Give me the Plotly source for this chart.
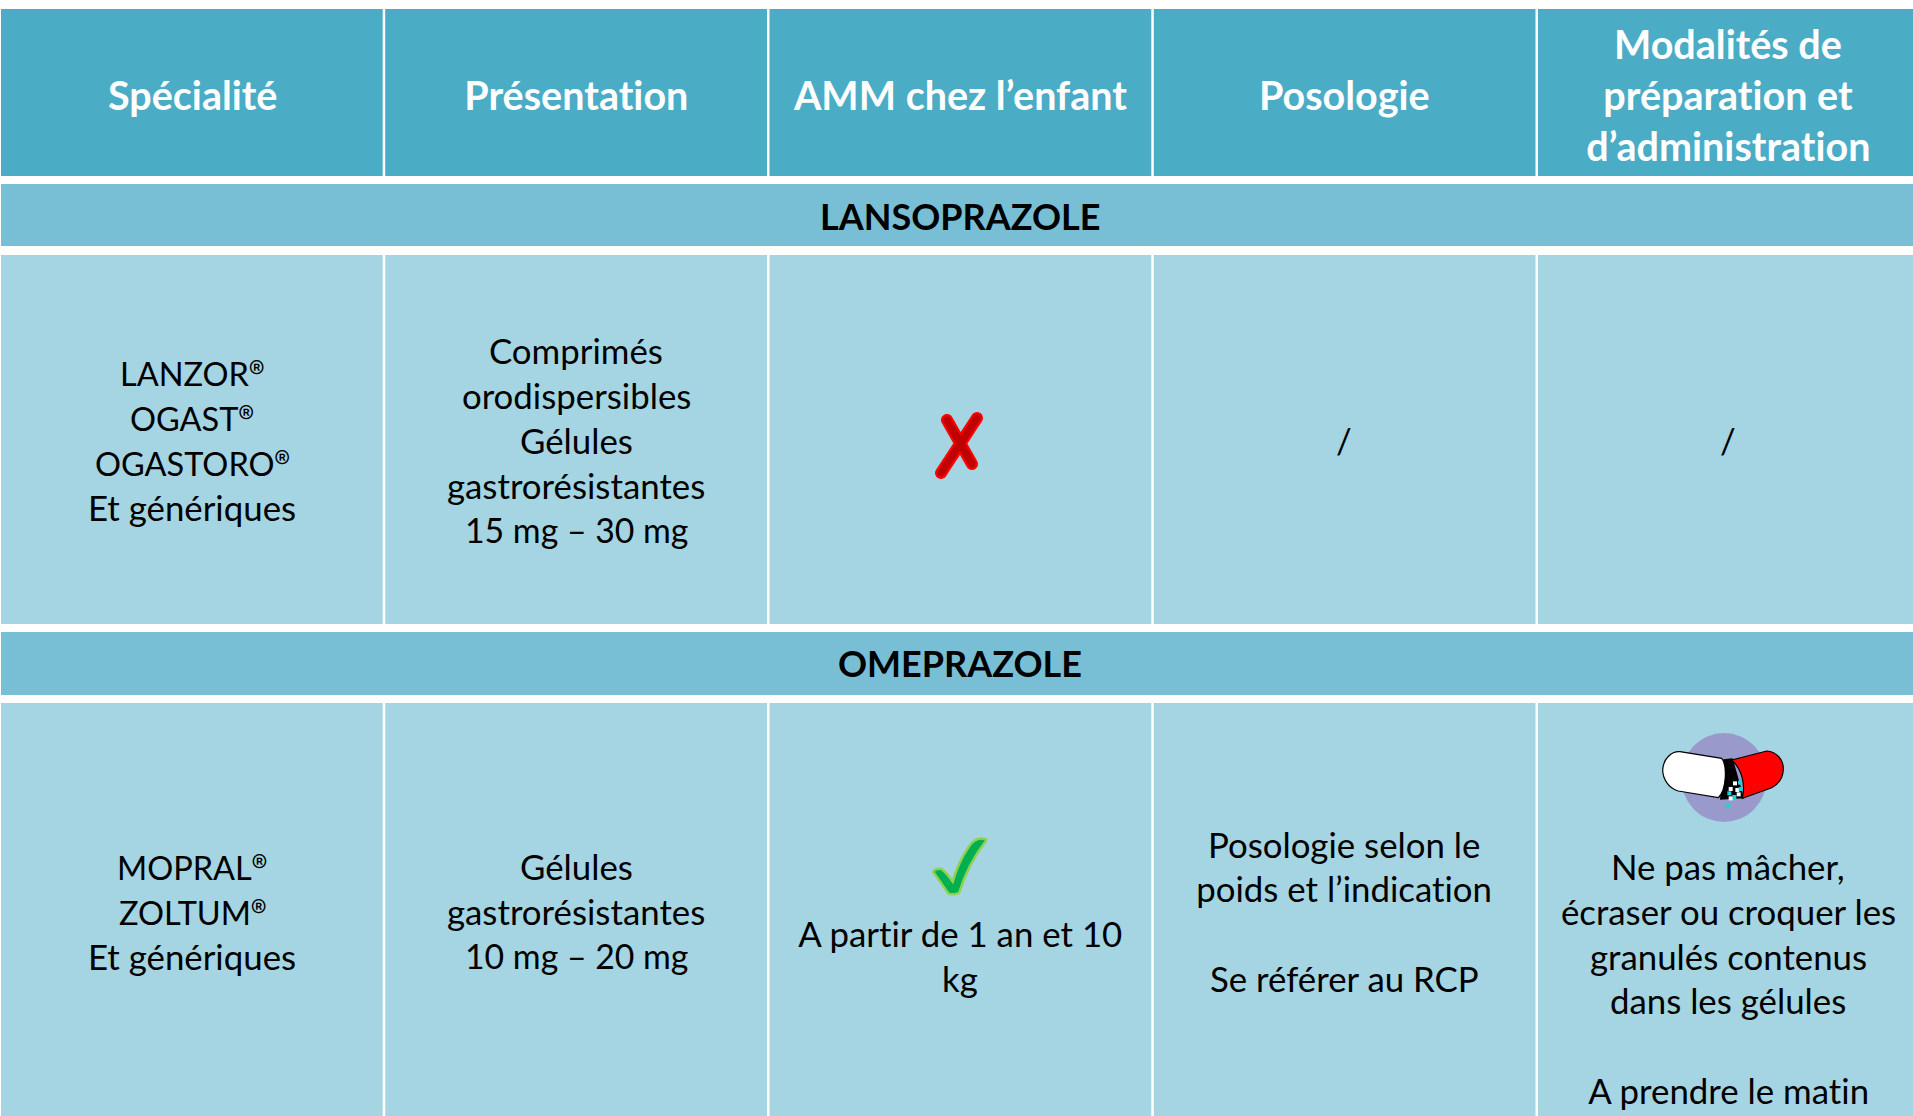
import math
import plotly.graph_objects as go

# ---- content ----
REG = '<span style="font-family:Noto Sans CJK SC">®</span>'
headers = ["Spécialité", "Présentation", "AMM chez l’enfant", "Posologie",
           ["Modalités de", "préparation et", "d’administration"]]
sections = ["LANSOPRAZOLE", "OMEPRAZOLE"]
lanso_cells = [
    ["LANZOR" + REG, "OGAST" + REG, "OGASTORO" + REG, "Et génériques"],
    ["Comprimés", "orodispersibles", "Gélules", "gastrorésistantes", "15 mg – 30 mg"],
    [],
    ["/"],
    ["/"],
]
omep_cells = [
    ["MOPRAL" + REG, "ZOLTUM" + REG, "Et génériques"],
    ["Gélules", "gastrorésistantes", "10 mg – 20 mg"],
    ["A partir de 1 an et 10", "kg"],
    ["Posologie selon le", "poids et l’indication", "Se référer au RCP"],
    ["Ne pas mâcher,", "écraser ou croquer les", "granulés contenus", "dans les gélules", "A prendre le matin"],
]

# ---- layout ----
W, H = 1913, 1116
col_edges = [(1, 382.7), (385.2, 767), (769.5, 1151.3), (1153.8, 1535.5), (1538, 1913)]
col_centers = [192, 576, 960, 1344, 1728]
header_box = (9, 176)
section_boxes = [(184, 246), (632, 695)]
body_boxes = [(255, 624), (703, 1116)]
HEADER_C, SECTION_C, BODY_C = "#4BACC6", "#78BFD6", "#A5D5E2"
FONT = "Lato"
header_y = [[94], [94], [94], [94], [43, 94, 145]]
section_y = [216, 663]
lanso_y = [[371, 416, 461, 507], [350, 395, 440, 485, 530], [], [440], [440]]
omep_y = [[865, 910, 956], [866, 911, 956], [933, 978], [844, 888, 978], [866, 911, 956, 1000, 1090]]
SIZE = 34.8
CAPS_SIZE = 32.5
DASH_SIZE = 33.8
HEAD_SIZE = 39.5
SECTION_SIZE = 36

fig = go.Figure()
shapes, notes = [], []


def rect(x0, x1, y0, y1, color):
    shapes.append(dict(type="rect", xref="x", yref="y", x0=x0, x1=x1, y0=y0, y1=y1,
                       fillcolor=color, line=dict(width=0), layer="below"))


def text(x, y, s, color="#000000", bold=False, size=None):
    if size is None:
        size = CAPS_SIZE if "®" in s else DASH_SIZE if "–" in s else SIZE
    notes.append(dict(xref="x", yref="y", x=x, y=y, text=f"<b>{s}</b>" if bold else s,
                      showarrow=False, xanchor="center", yanchor="middle",
                      font=dict(family=FONT, size=size, color=color)))


for x0, x1 in col_edges:
    rect(x0, x1, *header_box, HEADER_C)
    for b in body_boxes:
        rect(x0, x1, *b, BODY_C)
for b in section_boxes:
    rect(1, W, *b, SECTION_C)

for i, cx in enumerate(col_centers):
    hs = headers[i] if isinstance(headers[i], list) else [headers[i]]
    for s, y in zip(hs, header_y[i]):
        text(cx, y, s, "#FFFFFF", True, HEAD_SIZE)
    for s, y in zip(lanso_cells[i], lanso_y[i]):
        text(cx, y, s)
    for s, y in zip(omep_cells[i], omep_y[i]):
        text(cx, y, s)
for s, y in zip(sections, section_y):
    text(960, y, s, "#000000", True, SECTION_SIZE)


# ---- icons (pictograms, not data) ----
def poly(pts):
    return "M" + " L".join(f"{x:.1f},{y:.1f}" for x, y in pts) + " Z"


def stroke(p0, p1, w):
    a = math.atan2(p1[1] - p0[1], p1[0] - p0[0])
    pts = []
    for c, start in ((p1, a - math.pi / 2), (p0, a + math.pi / 2)):
        for k in range(11):
            t = start + math.pi * k / 10
            pts.append((c[0] + w / 2 * math.cos(t), c[1] + w / 2 * math.sin(t)))
    return poly(pts)


def path(d, fill, line=None, lw=0):
    shapes.append(dict(type="path", xref="x", yref="y", path=d, fillcolor=fill,
                       line=dict(color=line or fill, width=lw)))


# red cross
for wid, col in ((12, "#FF0000"), (7.5, "#C00000")):
    path(stroke((947, 420), (972, 464), wid), col)
    path(stroke((941, 473), (977, 418), wid), col)


def zoom_path(ox, oy, segs):
    out = []
    for cmd, pts in segs:
        out.append(cmd + " ".join(f"{ox + x / 3:.1f},{oy + y / 3:.1f}" for x, y in pts))
    return " ".join(out) + " Z"


# green tick
tick = [("M", [(318, 88)]), ("C", [(295, 80), (280, 90), (268, 108)]),
        ("C", [(245, 140), (228, 180), (218, 215)]), ("C", [(208, 200), (195, 185), (185, 177)]),
        ("C", [(172, 174), (160, 180), (160, 187)]), ("C", [(175, 205), (190, 230), (205, 250)]),
        ("C", [(215, 254), (232, 254), (238, 247)]), ("C", [(255, 190), (285, 135), (318, 92)])]
path(zoom_path(880, 810, tick), "#00B050", "#92D050", 2.5)

# capsule
shapes.append(dict(type="circle", xref="x", yref="y", x0=1681, x1=1767, y0=733, y1=822,
                   fillcolor="#9999CC", line=dict(width=0)))
black = [("M", [(250, 133)]), ("L", [(278, 130)]), ("L", [(312, 250)]), ("L", [(240, 254)])]
path(zoom_path(1640, 715, black), "#000000")
red = [("M", [(275, 135)]), ("L", [(380, 108)]), ("C", [(410, 110), (432, 135), (430, 165)]),
       ("C", [(428, 195), (410, 210), (395, 218)]), ("L", [(307, 250)]), ("C", [(318, 205), (303, 160), (275, 135)])]
path(zoom_path(1640, 715, red), "#FF0000", "#000000", 1.2)
white = [("M", [(120, 110)]), ("L", [(245, 130)]), ("C", [(262, 150), (260, 225), (235, 248)]),
         ("L", [(115, 228)]), ("C", [(85, 220), (68, 190), (68, 165)]), ("C", [(70, 130), (95, 108), (120, 110)])]
path(zoom_path(1640, 715, white), "#FFFFFF", "#000000", 1.2)
granules = [(285, 205, "#FFFFFF"), (300, 203, "#19D3DA"), (272, 222, "#FFFFFF"), (292, 225, "#FFFFFF"),
            (302, 222, "#19D3DA"), (268, 235, "#19D3DA"), (283, 246, "#19D3DA"), (272, 250, "#FFFFFF"),
            (265, 270, "#19D3DA"), (296, 238, "#FFFFFF")]
for gx, gy, col in granules:
    rx, ry = 1640 + gx / 3, 715 + gy / 3
    shapes.append(dict(type="rect", xref="x", yref="y", x0=rx - 2, x1=rx + 2, y0=ry - 2, y1=ry + 2,
                       fillcolor=col, line=dict(width=0)))

fig.update_layout(
    width=W, height=H, margin=dict(l=0, r=0, t=0, b=0),
    paper_bgcolor="#FFFFFF", plot_bgcolor="#FFFFFF", showlegend=False,
    xaxis=dict(range=[0, W], visible=False, fixedrange=True),
    yaxis=dict(range=[H, 0], visible=False, fixedrange=True),
    shapes=shapes, annotations=notes,
)
css = ("svg text,svg tspan{font-variant-ligatures:none !important;"
       "font-feature-settings:\"liga\" 0,\"clig\" 0,\"calt\" 0,\"dlig\" 0 !important;"
       "letter-spacing:0.01px !important}")
fig.write_html("out.html", config=dict(displayModeBar=False),
               post_script="document.body.style.margin='0';"
                           "var st=document.createElement('style');"
                           f"st.textContent='{css}';"
                           "document.head.appendChild(st);")
